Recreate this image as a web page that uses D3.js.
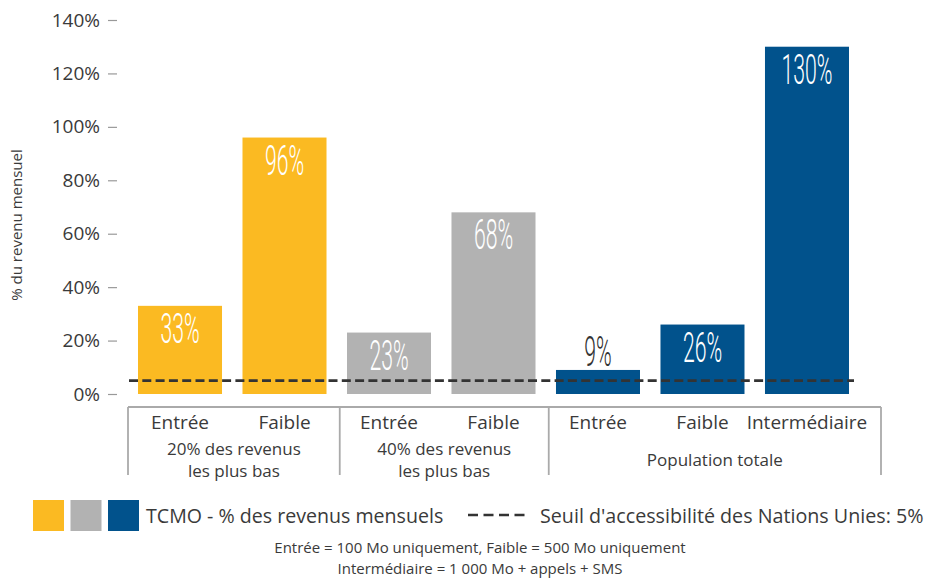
<!DOCTYPE html>
<html>
<head>
<meta charset="utf-8">
<script src="https://cdn.jsdelivr.net/npm/d3@7"></script>
<style>
  body { margin: 0; background: #fff; }
  svg text { font-family: "Open Sans", "DejaVu Sans", sans-serif; fill: #3a3a3a; }
</style>
</head>
<body>
<div id="chart"></div>
<script>
// categories and values
var plans = ["Entrée", "Faible", "Entrée", "Faible", "Entrée", "Faible", "Intermédiaire"];
var groupOfBar = [0, 0, 1, 1, 2, 2, 2];
var values = [33, 96, 23, 68, 9, 26, 130];
var groups = [["20% des revenus", "les plus bas"], ["40% des revenus", "les plus bas"], ["Population totale"]];
var groupColors = ["#fbba22", "#b2b2b2", "#01528c"];
var yTicks = [0, 20, 40, 60, 80, 100, 120, 140];
var threshold = 5;

var width = 927, height = 579;

var svg = d3.select('#chart')
  .append('svg')
  .attr('width', width)
  .attr('height', height);

var ids = d3.range(values.length);

var x = d3.scaleBand()
  .domain(ids)
  .range([128, 881])
  .paddingInner(0.196)
  .paddingOuter(0.201)
  .align(0.238);

var y = d3.scaleLinear()
  .domain([0, 140])
  .range([394, 20]);

// y axis
var yAxis = d3.axisLeft(y)
  .tickValues(yTicks)
  .tickSize(9)
  .tickPadding(8)
  .tickFormat(function(d) { return d + '%'; });

var gy = svg.append('g')
  .attr('transform', 'translate(117,0)')
  .call(yAxis);
gy.select('.domain').remove();
gy.selectAll('.tick line').attr('stroke', '#999').attr('stroke-width', 1.2);
gy.selectAll('.tick text')
  .style('font-size', '19px')
  .attr('fill', '#3a3a3a');

svg.append('text')
  .attr('transform', 'translate(22,225) rotate(-90)')
  .attr('text-anchor', 'middle')
  .style('font-size', '15px')
  .text('% du revenu mensuel');

// bars
svg.selectAll('.bar')
  .data(ids)
  .enter()
  .append('rect')
  .attr('class', 'bar')
  .attr('x', function(i) { return x(i); })
  .attr('y', function(i) { return y(values[i]); })
  .attr('width', x.bandwidth())
  .attr('height', function(i) { return y(0) - y(values[i]); })
  .attr('fill', function(i) { return groupColors[groupOfBar[i]]; });

// value labels (tall condensed look)
svg.selectAll('.val')
  .data(ids)
  .enter()
  .append('text')
  .attr('class', 'val')
  .attr('transform', function(i) {
    var inside = values[i] > 15;
    var ty = inside ? y(values[i]) + 37 : y(values[i]) - 4;
    return 'translate(' + (x(i) + x.bandwidth() / 2) + ',' + ty + ') scale(0.53,1.04)';
  })
  .attr('text-anchor', 'middle')
  .style('font-family', 'Roboto, "DejaVu Sans", sans-serif')
  .style('font-weight', 300)
  .style('font-size', '40px')
  .style('fill', function(i) { return values[i] > 15 ? '#fff' : '#333'; })
  .text(function(i) { return values[i] + '%'; });

// threshold line
svg.append('line')
  .attr('x1', 129)
  .attr('x2', 854)
  .attr('y1', y(threshold))
  .attr('y2', y(threshold))
  .attr('stroke', '#333')
  .attr('stroke-width', 2.7)
  .attr('stroke-dasharray', '9,4.3');

// category box
var boxTop = 407, boxBottom = 475;
var bounds = [128];
for (var i = 1; i < values.length; i++) {
  if (groupOfBar[i] !== groupOfBar[i - 1]) {
    bounds.push((x(i - 1) + x.bandwidth() + x(i)) / 2 + 3);
  }
}
bounds.push(881);

svg.append('line')
  .attr('x1', 128).attr('x2', 881)
  .attr('y1', boxTop).attr('y2', boxTop)
  .attr('stroke', '#aaa').attr('stroke-width', 1.8);

svg.selectAll('.sep')
  .data(bounds)
  .enter()
  .append('line')
  .attr('x1', function(d) { return d; })
  .attr('x2', function(d) { return d; })
  .attr('y1', boxTop)
  .attr('y2', boxBottom)
  .attr('stroke', '#aaa')
  .attr('stroke-width', 1.8);

svg.selectAll('.cat')
  .data(ids)
  .enter()
  .append('text')
  .attr('x', function(i) { return x(i) + x.bandwidth() / 2; })
  .attr('y', 429)
  .attr('text-anchor', 'middle')
  .style('font-size', '19px')
  .text(function(i) { return plans[i]; });

groups.forEach(function(lines, g) {
  var cx = (bounds[g] + bounds[g + 1]) / 2;
  var startY = lines.length > 1 ? 455 : 466;
  lines.forEach(function(t, k) {
    svg.append('text')
      .attr('x', cx)
      .attr('y', startY + k * 22)
      .attr('text-anchor', 'middle')
      .style('font-size', '17px')
      .text(t);
  });
});

// legend
var legendSize = 31;
svg.selectAll('.legend-box')
  .data(groupColors)
  .enter()
  .append('rect')
  .attr('x', function(d, i) { return 33 + i * 37.5; })
  .attr('y', 500)
  .attr('width', legendSize)
  .attr('height', legendSize)
  .attr('fill', function(d) { return d; });

svg.append('text')
  .attr('x', 146)
  .attr('y', 523)
  .style('font-size', '19.6px')
  .text('TCMO - % des revenus mensuels');

svg.append('line')
  .attr('x1', 468).attr('x2', 525)
  .attr('y1', 515).attr('y2', 515)
  .attr('stroke', '#333')
  .attr('stroke-width', 2.7)
  .attr('stroke-dasharray', '10,5.5');

svg.append('text')
  .attr('x', 540)
  .attr('y', 523)
  .style('font-size', '19.7px')
  .text("Seuil d'accessibilité des Nations Unies: 5%");

// footnote
svg.append('text')
  .attr('x', 480).attr('y', 553)
  .attr('text-anchor', 'middle')
  .style('font-size', '15px')
  .text('Entrée = 100 Mo uniquement, Faible = 500 Mo uniquement');
svg.append('text')
  .attr('x', 480).attr('y', 574)
  .attr('text-anchor', 'middle')
  .style('font-size', '15px')
  .text('Intermédiaire = 1 000 Mo + appels + SMS');
</script>
</body>
</html>
